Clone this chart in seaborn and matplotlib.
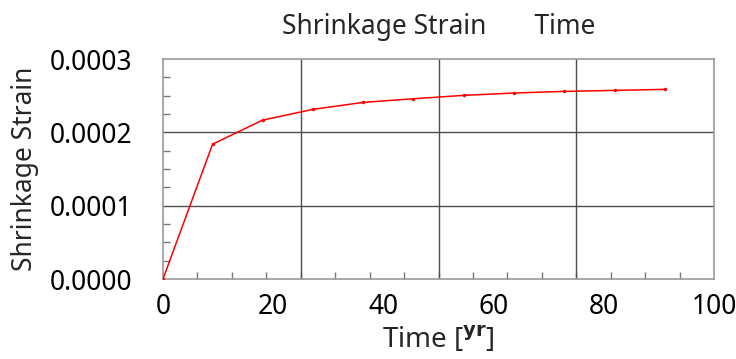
import numpy as np
import pandas as pd
import matplotlib
matplotlib.use("Agg")
import matplotlib.pyplot as plt
import seaborn as sns
from matplotlib.ticker import MultipleLocator, FixedLocator, StrMethodFormatter

# data
time_yr = [0.0, 9.0, 18.1, 27.2, 36.3, 45.45, 54.6, 63.7, 72.8, 82.0, 91.1]
strain = [0.0, 0.0001839, 0.0002167, 0.0002313, 0.0002408, 0.0002458,
          0.0002504, 0.0002536, 0.0002558, 0.0002572, 0.0002586]
x_ticks = [0, 20, 40, 60, 80, 100]
y_ticks = [0.0, 0.0001, 0.0002, 0.0003]
x_grid = [25, 50, 75]
y_grid = [0.0001, 0.0002]
title_text = "Shrinkage Strain       Time"
ylabel_text = "Shrinkage Strain"

df = pd.DataFrame({"Time": time_yr, "Strain": strain})

sns.set_theme(style="white")
plt.rcParams["font.family"] = ["Noto Sans", "DejaVu Sans"]
plt.rcParams["mathtext.fontset"] = "custom"
plt.rcParams["mathtext.bf"] = "DejaVu Sans:bold"
plt.rcParams["mathtext.rm"] = "Noto Sans"

fig = plt.figure(figsize=(7.36, 3.59), dpi=100)
ax = fig.add_axes([163/736, 1 - 279/359, (714-163)/736, (279-59)/359])

for gx in x_grid:
    ax.axvline(gx, color="#4d4d4d", lw=1.0, zorder=1)
for gy in y_grid:
    ax.axhline(gy, color="#4d4d4d", lw=1.0, zorder=1)

sns.lineplot(data=df, x="Time", y="Strain", ax=ax, color="#ff0000", lw=1.1,
             marker="o", markersize=2.5, markeredgewidth=0, zorder=3)

ax.set_xlim(0, 100)
ax.set_ylim(0, 0.0003)
ax.xaxis.set_major_locator(FixedLocator(x_ticks))
ax.yaxis.set_major_locator(FixedLocator(y_ticks))
ax.yaxis.set_major_formatter(StrMethodFormatter("{x:.4f}"))
ax.xaxis.set_minor_locator(MultipleLocator(6.25))
ax.yaxis.set_minor_locator(MultipleLocator(0.000025))
ax.tick_params(axis="both", which="major", length=0, labelsize=19, colors="black")
ax.tick_params(axis="x", which="major", pad=10)
ax.tick_params(axis="y", which="major", pad=22)
ax.tick_params(axis="both", which="minor", direction="in", length=5, width=1,
               color="#777777", bottom=True, left=True, top=False, right=False)

for s in ax.spines.values():
    s.set_color("#999999")
    s.set_linewidth(1.2)

ax.set_title(title_text, fontsize=19, pad=18)
ax.set_ylabel(ylabel_text, fontsize=19, labelpad=8)
ax.set_xlabel(r"Time [$^{\mathbf{yr}}$]", fontsize=20, labelpad=3)

fig.savefig("out.png", dpi=100)
